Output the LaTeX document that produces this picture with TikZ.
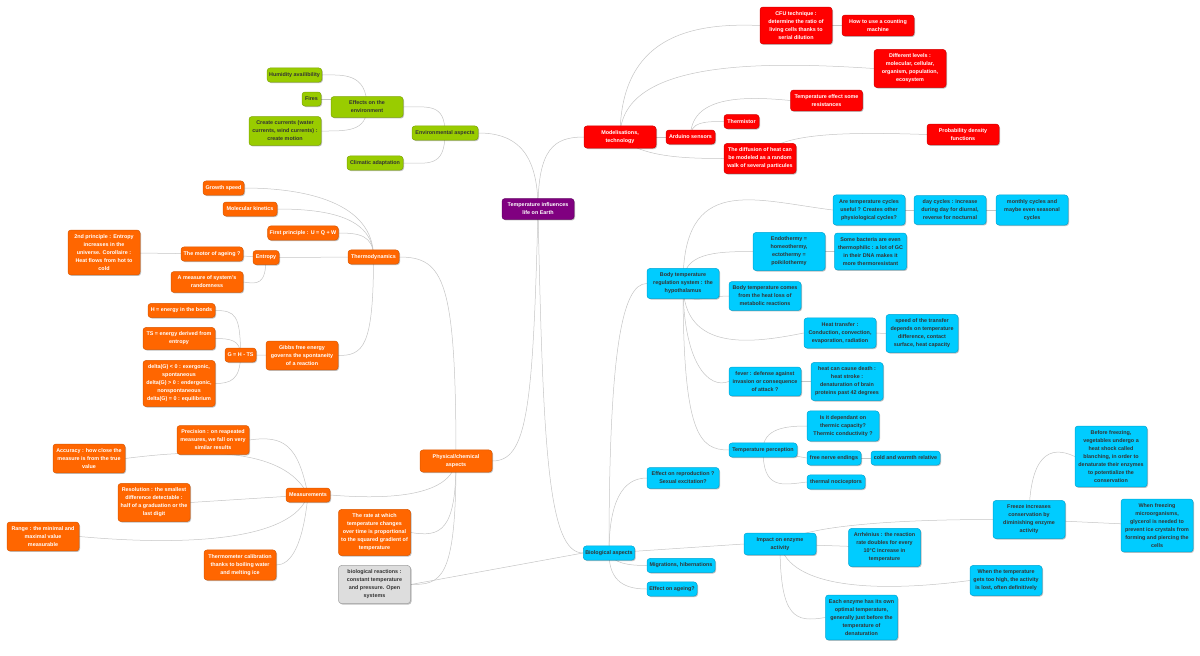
\documentclass[tikz,border=0pt]{standalone}
\usepackage{fontspec}
\setmainfont{Liberation Sans}
\usepackage{tikz}
\usetikzlibrary{backgrounds,shadows}
\definecolor{redfill}{HTML}{FF0000}
\definecolor{reddraw}{HTML}{D40000}
\definecolor{orangefill}{HTML}{FF6600}
\definecolor{orangedraw}{HTML}{DB5800}
\definecolor{greenfill}{HTML}{99CC00}
\definecolor{greendraw}{HTML}{7DA600}
\definecolor{bluefill}{HTML}{00CCFF}
\definecolor{bluedraw}{HTML}{00A6D4}
\definecolor{rootfill}{HTML}{800080}
\definecolor{rootdraw}{HTML}{640064}
\definecolor{grayfill}{HTML}{DDDDDD}
\definecolor{graydraw}{HTML}{A0A0A0}
\definecolor{darktext}{HTML}{333333}
\definecolor{linkgray}{HTML}{C4C4C4}
\tikzset{
  idea/.style={rounded corners=3pt,align=center,inner xsep=2pt,inner ysep=4.5pt,
    minimum height=14pt,line width=0.5pt,font=\fontsize{5.4}{8}\selectfont\bfseries,
    drop shadow={shadow xshift=1pt,shadow yshift=-1pt,opacity=0.25,fill=black}},
  rootidea/.style={idea,fill=rootfill,draw=rootdraw,text=white},
  redidea/.style={idea,fill=redfill,draw=reddraw,text=white},
  orangeidea/.style={idea,fill=orangefill,draw=orangedraw,text=white},
  greenidea/.style={idea,fill=greenfill,draw=greendraw,text=darktext},
  blueidea/.style={idea,fill=bluefill,draw=bluedraw,text=darktext},
  grayidea/.style={idea,fill=grayfill,draw=graydraw,text=darktext},
  link/.style={draw=linkgray,line width=0.5pt}
}
\newcommand{\mapbox}[5]{
  \node[#3,minimum width=#4pt] (#1) at #2 {#5};
}

\begin{document}
\begin{tikzpicture}[x=1pt,y=-1pt]
  \useasboundingbox (0,0) rectangle (1200,656);
  \mapbox{root}{(538,209)}{rootidea}{72}{Temperature influences\\life on Earth}

  % modelisations
  \mapbox{model}{(620,137)}{redidea}{72}{Modelisations,\\technology}
  \mapbox{cfu}{(796,25.5)}{redidea}{72}{CFU technique :\\determine the ratio of\\living cells thanks to\\serial dilution}
  \mapbox{count}{(878,25.5)}{redidea}{72}{How to use a counting\\machine}
  \mapbox{levels}{(910,68.5)}{redidea}{72}{Different levels :\\molecular, cellular,\\organism, population,\\ecosystem}
  \mapbox{resist}{(826.5,100.5)}{redidea}{72}{Temperature effect some\\resistances}
  \mapbox{therm}{(741.5,121.5)}{redidea}{35}{Thermistor}
  \mapbox{ard}{(690.5,137)}{redidea}{49}{Arduino sensors}
  \mapbox{diff}{(760,158.5)}{redidea}{72}{The diffusion of heat can\\be modeled as a random\\walk of several particules}
  \mapbox{prob}{(963,134.5)}{redidea}{72}{Probability density\\functions}

  % environment
  \mapbox{env}{(445,133)}{greenidea}{66}{Environmental aspects}
  \mapbox{effects}{(367,107)}{greenidea}{72}{Effects on the\\environment}
  \mapbox{humid}{(294.5,75)}{greenidea}{53}{Humidity availibility}
  \mapbox{fires}{(311.5,99)}{greenidea}{19}{Fires}
  \mapbox{curr}{(285,131)}{greenidea}{72}{Create currents (water\\currents, wind currents) :\\create motion}
  \mapbox{clim}{(375,163)}{greenidea}{56}{Climatic adaptation}

  % physical / chemical
  \mapbox{phys}{(456,461)}{orangeidea}{72}{Physical/chemical\\aspects}
  \mapbox{thermo}{(373.5,257)}{orangeidea}{51}{Thermodynamics}
  \mapbox{growth}{(223.5,188)}{orangeidea}{41}{Growth speed}
  \mapbox{kin}{(250,209)}{orangeidea}{54}{Molecular kinetics}
  \mapbox{first}{(303,233)}{orangeidea}{70}{First principle : U = Q + W}
  \mapbox{entropy}{(266,257.5)}{orangeidea}{26}{Entropy}
  \mapbox{motor}{(212,254)}{orangeidea}{62}{The motor of ageing ?}
  \mapbox{second}{(104,252.5)}{orangeidea}{72}{2nd principle : Entropy\\increases in the\\universe. Corollaire :\\Heat flows from hot to\\cold}
  \mapbox{random}{(207,282)}{orangeidea}{72}{A measure of system's\\randomness}
  \mapbox{gibbs}{(302,355.5)}{orangeidea}{72}{Gibbs free energy\\governs the spontaneity\\of a reaction}
  \mapbox{gform}{(240.5,355)}{orangeidea}{31}{G = H - TS}
  \mapbox{hbond}{(181.5,310.5)}{orangeidea}{67}{H = energy in the bonds}
  \mapbox{ts}{(179,338.5)}{orangeidea}{72}{TS = energy derived from\\entropy}
  \mapbox{delta}{(179,383.5)}{orangeidea}{72}{delta(G) < 0 : exergonic,\\spontaneous\\delta(G) > 0 : endergonic,\\nonspontaneous\\delta(G) = 0 : equilibrium}
  \mapbox{meas}{(308,495)}{orangeidea}{44}{Measurements}
  \mapbox{prec}{(213,440)}{orangeidea}{72}{Precision : on reapeated\\measures, we fall on very\\similar results}
  \mapbox{acc}{(89,458.5)}{orangeidea}{72}{Accuracy : how close the\\measure is from the true\\value}
  \mapbox{res}{(154,502.5)}{orangeidea}{72}{Resolution : the smallest\\difference detectable :\\half of a graduation or the\\last digit}
  \mapbox{range}{(43,536.5)}{orangeidea}{72}{Range : the minimal and\\maximal value\\measurable}
  \mapbox{calib}{(240,565)}{orangeidea}{72}{Thermometer calibration\\thanks to boiling water\\and melting ice}
  \mapbox{rate}{(374.5,532.5)}{orangeidea}{72}{The rate at which\\temperature changes\\over time is proportional\\to the squared gradient of\\temperature}
  \mapbox{bioreact}{(374.5,584.5)}{grayidea}{72}{biological reactions :\\constant temperature\\and pressure. Open\\systems}

  % biological
  \mapbox{bio}{(609,553)}{blueidea}{50}{Biological aspects}
  \mapbox{body}{(683,283.5)}{blueidea}{72}{Body temperature\\regulation system : the\\hypothalamus}
  \mapbox{cycles}{(869,210)}{blueidea}{72}{Are temperature cycles\\useful ? Creates other\\physiological cycles?}
  \mapbox{day}{(950,210)}{blueidea}{72}{day cycles : increase\\during day for diurnal,\\reverse for nocturnal}
  \mapbox{month}{(1032,210)}{blueidea}{72}{monthly cycles and\\maybe even seasonal\\cycles}
  \mapbox{endo}{(789,251.5)}{blueidea}{72}{Endothermy =\\homeothermy,\\ectothermy =\\poikilothermy}
  \mapbox{bact}{(870.5,251.5)}{blueidea}{72}{Some bacteria are even\\thermophilic : a lot of GC\\in their DNA makes it\\more thermoresistant}
  \mapbox{meta}{(765,296)}{blueidea}{72}{Body temperature comes\\from the heat loss of\\metabolic reactions}
  \mapbox{transfer}{(840,333)}{blueidea}{72}{Heat transfer :\\Conduction, convection,\\evaporation, radiation}
  \mapbox{speed}{(922,333.5)}{blueidea}{72}{speed of the transfer\\depends on temperature\\difference, contact\\surface, heat capacity}
  \mapbox{fever}{(765,381.5)}{blueidea}{72}{fever : defense against\\invasion or consequence\\of attack ?}
  \mapbox{death}{(847,381.5)}{blueidea}{72}{heat can cause death :\\heat stroke :\\denaturation of brain\\proteins past 42 degrees}
  \mapbox{perc}{(763,450)}{blueidea}{68}{Temperature perception}
  \mapbox{capa}{(843,426)}{blueidea}{72}{Is it dependant on\\thermic capacity?\\Thermic conductivity ?}
  \mapbox{nerve}{(834,458)}{blueidea}{54}{free nerve endings}
  \mapbox{warm}{(905.5,458)}{blueidea}{69}{cold and warmth relative}
  \mapbox{noci}{(836,482)}{blueidea}{58}{thermal nociceptors}
  \mapbox{repro}{(683,478)}{blueidea}{72}{Effect on reproduction ?\\Sexual excitation?}
  \mapbox{migr}{(681,565.5)}{blueidea}{68}{Migrations, hibernations}
  \mapbox{ageing}{(672,589)}{blueidea}{50}{Effect on ageing?}
  \mapbox{enz}{(780,544)}{blueidea}{72}{Impact on enzyme\\activity}
  \mapbox{arr}{(884.5,547.5)}{blueidea}{72}{Arrhénius : the reaction\\rate doubles for every\\10°C increase in\\temperature}
  \mapbox{optim}{(861.5,617.5)}{blueidea}{72}{Each enzyme has its own\\optimal temperature,\\generally just before the\\temperature of\\denaturation}
  \mapbox{freeze}{(1029,519.5)}{blueidea}{72}{Freeze increases\\conservation by\\diminishing enzyme\\activity}
  \mapbox{blanch}{(1111,456.5)}{blueidea}{72}{Before freezing,\\vegetables undergo a\\heat shock called\\blanching, in order to\\denaturate their enzymes\\to potentialize the\\conservation}
  \mapbox{glyc}{(1157,525.5)}{blueidea}{72}{When freezing\\microorganisms,\\glycerol is needed to\\prevent ice crystals from\\forming and piercing the\\cells}
  \mapbox{lost}{(1006,580.5)}{blueidea}{72}{When the temperature\\gets too high, the activity\\is lost, often definitively}

  \begin{scope}[on background layer]
    % main branches
    \draw[link] (root.center) .. controls +(0,-60) and +(-30,0) .. (model.west);
    \draw[link] (root.center) .. controls +(0,-60) and +(35,0) .. (env.east);
    \draw[link] (root.center) .. controls +(-5,200) and +(35,0) .. (phys.east);
    \draw[link] (root.center) .. controls +(5,240) and +(-35,0) .. (bio.west);

    \draw[link] (model.center) .. controls +(0,-100) and +(-70,-3) .. (cfu.west);
    \draw[link] (model.center) .. controls +(0,-75) and +(-120,-8) .. (levels.west);
    \draw[link] (model.center) -- (ard.center);
    \draw[link] (model.center) .. controls +(20,20) and +(-40,0) .. (diff.west);
    \draw[link] (ard.center) .. controls +(0,-15) and +(-20,0) .. (therm.west);
    \draw[link] (ard.center) .. controls +(0,-40) and +(-50,-5) .. (resist.west);
    \draw[link] (cfu.center) -- (count.center);
    \draw[link] (diff.center) .. controls +(15,-25) and +(-90,-3) .. (prob.west);

    \draw[link] (env.center) .. controls +(0,-30) and +(25,0) .. (effects.east);
    \draw[link] (env.center) .. controls +(0,35) and +(25,0) .. (clim.east);
    \draw[link] (effects.center) .. controls +(0,-35) and +(20,0) .. (humid.east);
    \draw[link] (fires.center) -- (fires.center -| effects.center);
    \draw[link] (effects.center) .. controls +(0,25) and +(25,0) .. (curr.east);

    \draw[link] (phys.center) .. controls +(0,-180) and +(45,0) .. (thermo.east);
    \draw[link] (phys.center) .. controls +(-5,35) and +(60,5) .. (meas.east);
    \draw[link] (phys.center) .. controls +(0,70) and +(30,5) .. (rate.east);
    \draw[link] (phys.center) .. controls +(0,120) and +(30,0) .. (bioreact.east);
    \draw[link] (bioreact.east) -- (bio.west);

    \draw[link] (thermo.center) .. controls +(0,-55) and +(60,0) .. (growth.east);
    \draw[link] (thermo.center) .. controls +(0,-40) and +(50,0) .. (kin.east);
    \draw[link] (thermo.center) .. controls +(0,-22) and +(20,0) .. (first.east);
    \draw[link] (thermo.center) -- (entropy.center);
    \draw[link] (thermo.center) .. controls +(0,90) and +(25,0) .. (gibbs.east);
    \draw[link] (entropy.center) -- (motor.center);
    \draw[link] (entropy.center) .. controls +(0,28) and +(14,2) .. (random.east);
    \draw[link] (motor.center) -- (second.center);
    \draw[link] (gibbs.center) -- (gform.center);
    \draw[link] (gform.center) .. controls +(0,-40) and +(20,0) .. (hbond.east);
    \draw[link] (gform.center) .. controls +(0,-15) and +(15,0) .. (ts.east);
    \draw[link] (gform.center) .. controls +(0,25) and +(15,0) .. (delta.east);

    \draw[link] (meas.center) .. controls +(-10,-50) and +(35,-5) .. (prec.east);
    \draw[link] (meas.center) .. controls +(-20,-40) and +(100,-13) .. (acc.east);
    \draw[link] (meas.center) -- (res.east);
    \draw[link] (meas.center) .. controls +(-15,45) and +(110,10) .. (range.east);
    \draw[link] (meas.center) .. controls +(-5,50) and +(15,0) .. (calib.east);

    % biological branch
    \draw[link] (bio.center) .. controls +(0,-200) and +(-25,0) .. (body.west);
    \draw[link] (bio.center) .. controls +(0,-50) and +(-25,0) .. (repro.west);
    \draw[link] (bio.center) -- (enz.west);
    \draw[link] (bio.center) .. controls +(5,10) and +(-20,0) .. (migr.west);
    \draw[link] (bio.center) .. controls +(0,30) and +(-20,0) .. (ageing.west);

    \draw[link] (body.center) .. controls +(0,-110) and +(-80,-10) .. (cycles.west);
    \draw[link] (cycles.center) -- (day.center);
    \draw[link] (day.center) -- (month.center);
    \draw[link] (body.center) .. controls +(0,-30) and +(-40,0) .. (endo.west);
    \draw[link] (endo.center) -- (bact.center);
    \draw[link] (body.center) .. controls +(0,25) and +(-25,0) .. (meta.west);
    \draw[link] (body.center) .. controls +(0,70) and +(-50,10) .. (transfer.west);
    \draw[link] (transfer.center) -- (speed.center);
    \draw[link] (body.center) .. controls +(0,80) and +(-20,8) .. (fever.west);
    \draw[link] (fever.center) -- (death.center);
    \draw[link] (body.center) .. controls +(0,150) and +(-30,0) .. (perc.west);
    \draw[link] (perc.center) .. controls +(0,-22) and +(-20,0) .. (capa.west);
    \draw[link] (perc.center) -- (nerve.west);
    \draw[link] (perc.center) .. controls +(0,40) and +(-25,3) .. (noci.west);
    \draw[link] (nerve.center) -- (warm.center);

    \draw[link] (enz.center) -- (arr.center);
    \draw[link] (enz.center) .. controls +(20,-18) and +(-100,0) .. (freeze.west);
    \draw[link] (enz.center) .. controls +(10,45) and +(-90,12) .. (lost.west);
    \draw[link] (enz.center) .. controls +(0,75) and +(-30,5) .. (optim.west);
    \draw[link] (freeze.center) .. controls +(0,-65) and +(-25,-12) .. (blanch.west);
    \draw[link] (freeze.center) -- (glyc.center);
  \end{scope}
\end{tikzpicture}
\end{document}
